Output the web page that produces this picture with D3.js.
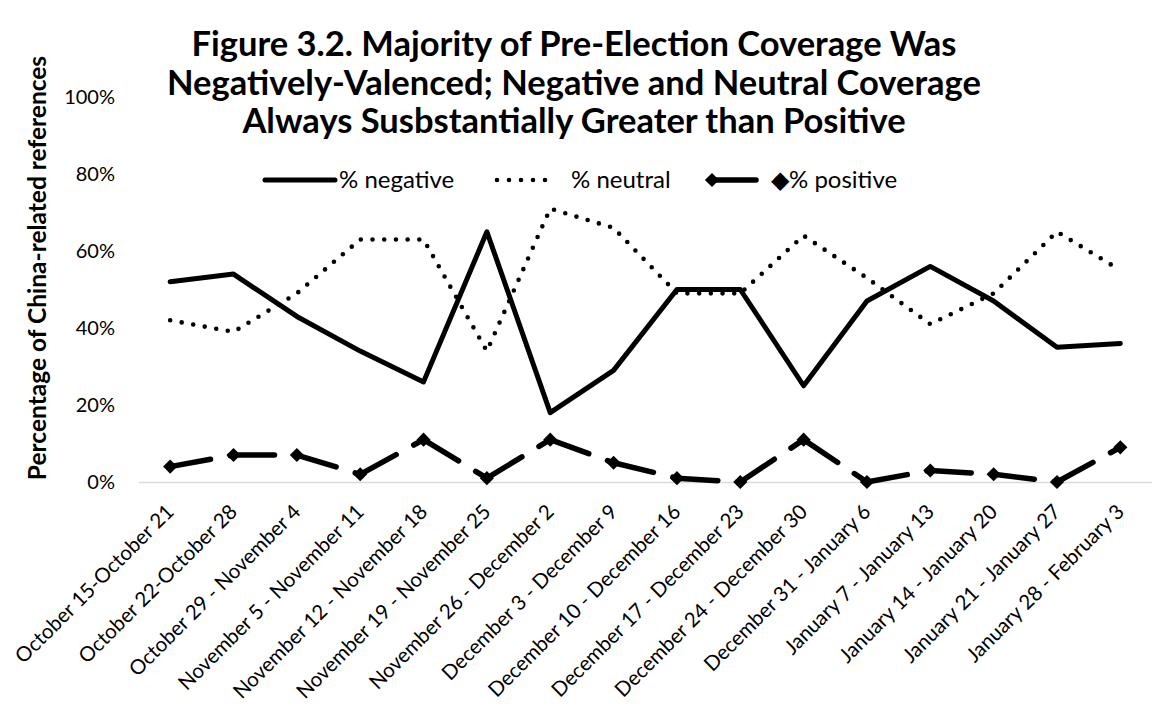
<!DOCTYPE html>
<html>
<head>
<meta charset="utf-8">
<script src="https://cdn.jsdelivr.net/npm/d3@7"></script>
<style>
  body { margin: 0; background: #fff; }
  svg { display: block; }
  text { font-family: Lato, "Open Sans", sans-serif; fill: #000; }
</style>
</head>
<body>
<svg id="chart" width="1152" height="715"></svg>
<script>
// Weekly periods (x categories)
const weeks = [
  "October 15-October 21", "October 22-October 28", "October 29 - November 4",
  "November 5 - November 11", "November 12 - November 18", "November 19 - November 25",
  "November 26 - December 2", "December 3 - December 9", "December 10  - December 16",
  "December 17 - December 23", "December 24 - December 30", "December 31 - January 6",
  "January 7 - January 13", "January 14 - January 20", "January 21 - January 27",
  "January 28 - February 3"
];

// Share of China-related references by valence (%)
const negative = [52, 54, 43, 34, 26, 65, 18, 29, 50, 50, 25, 47, 56, 47, 35, 36];
const neutral  = [42, 39, 49, 63, 63, 34, 71, 66, 49, 49, 64, 53, 41, 49, 65, 55];
const positive = [4, 7, 7, 2, 11, 1, 11, 5, 1, 0, 11, 0, 3, 2, 0, 9];

const yTicks = [0, 20, 40, 60, 80, 100];

const titleLines = [
  "Figure 3.2. Majority of Pre-Election Coverage Was",
  "Negatively-Valenced; Negative and Neutral Coverage",
  "Always Susbstantially Greater than Positive"
];
const yTitle = "Percentage of China-related references";
const seriesNames = ["% negative", "% neutral", "% positive"];

const svg = d3.select("#chart");

const x = d3.scaleBand().domain(weeks).range([138.5, 1152]).padding(0);
const y = d3.scaleLinear().domain([0, 100]).range([482, 97]);
const cx = d => x(d) + x.bandwidth() / 2;

// Title
svg.append("g").selectAll("text")
  .data(titleLines)
  .join("text")
  .attr("x", 574)
  .attr("y", (d, i) => 56 + i * 38.5)
  .attr("text-anchor", "middle")
  .style("font-weight", "700")
  .style("font-size", "34.5px")
  .text(d => d);

// Y axis title
svg.append("text")
  .attr("transform", "translate(46,268) rotate(-90)")
  .attr("text-anchor", "middle")
  .style("font-weight", "700")
  .style("font-size", "24.5px")
  .text(yTitle);

// Y axis labels
const yAxis = svg.append("g")
  .attr("transform", "translate(139,0)")
  .call(d3.axisLeft(y).tickValues(yTicks).tickFormat(d => d + "%").tickSize(0).tickPadding(24));
yAxis.select(".domain").remove();
yAxis.selectAll("text").style("font-size", "20px").style("font-family", "Lato, sans-serif");

// X axis with baseline
const xAxis = svg.append("g")
  .attr("transform", `translate(0,${y(0)})`)
  .call(d3.axisBottom(x).tickSize(0).tickSizeOuter(0));
xAxis.select(".domain").attr("stroke", "#d9d9d9").attr("stroke-width", 1.6);
xAxis.selectAll("text")
  .attr("x", 0).attr("y", 0).attr("dy", 0)
  .attr("text-anchor", "end")
  .attr("transform", "translate(5,31) rotate(-45)")
  .style("font-size", "20.5px")
  .style("font-family", "Lato, sans-serif");

// Series lines
const line = d3.line().x(d => cx(d.k)).y(d => y(d.v));
const pts = arr => arr.map((v, i) => ({ k: weeks[i], v }));

svg.append("path")
  .attr("d", line(pts(neutral)))
  .attr("fill", "none").attr("stroke", "#000")
  .attr("stroke-width", 4.6)
  .attr("stroke-linecap", "round")
  .attr("stroke-dasharray", "0,11.7");

svg.append("path")
  .attr("d", line(pts(negative)))
  .attr("fill", "none").attr("stroke", "#000")
  .attr("stroke-width", 5)
  .attr("stroke-linejoin", "round")
  .attr("stroke-linecap", "round");

// Positive: long-dash segments restarting at each marker
const posPts = pts(positive);
svg.append("g").selectAll("path")
  .data(d3.pairs(posPts))
  .join("path")
  .attr("d", d => line(d))
  .attr("fill", "none").attr("stroke", "#000")
  .attr("stroke-width", 5.5)
  .attr("stroke-linecap", "round")
  .attr("stroke-dasharray", "41,20");

const diamond = d3.symbol().type(d3.symbolSquare).size(100);
svg.append("g").selectAll("path")
  .data(posPts)
  .join("path")
  .attr("transform", d => `translate(${cx(d.k)},${y(d.v)}) rotate(45)`)
  .attr("d", diamond)
  .attr("fill", "#000");

// Legend
const legY = 180;
const legFont = "24px";
const leg = svg.append("g");
leg.append("line").attr("x1", 265).attr("x2", 335).attr("y1", legY).attr("y2", legY)
  .attr("stroke", "#000").attr("stroke-width", 5).attr("stroke-linecap", "round");
leg.append("text").attr("x", 339).attr("y", legY).attr("dy", "0.35em")
  .style("font-size", legFont).text(seriesNames[0]);

leg.append("line").attr("x1", 497).attr("x2", 557).attr("y1", legY).attr("y2", legY)
  .attr("stroke", "#000").attr("stroke-width", 4.6).attr("stroke-linecap", "round")
  .attr("stroke-dasharray", "0,12");
leg.append("text").attr("x", 571).attr("y", legY).attr("dy", "0.35em")
  .style("font-size", legFont).text(seriesNames[1]);

leg.append("line").attr("x1", 712).attr("x2", 756).attr("y1", legY).attr("y2", legY)
  .attr("stroke", "#000").attr("stroke-width", 5.5).attr("stroke-linecap", "round");
leg.append("path").attr("transform", `translate(712,${legY}) rotate(45)`)
  .attr("d", diamond).attr("fill", "#000");
leg.append("text").attr("x", 771).attr("y", legY).attr("dy", "0.35em")
  .style("font-size", legFont).text("\u25C6" + seriesNames[2]);
</script>
</body>
</html>
